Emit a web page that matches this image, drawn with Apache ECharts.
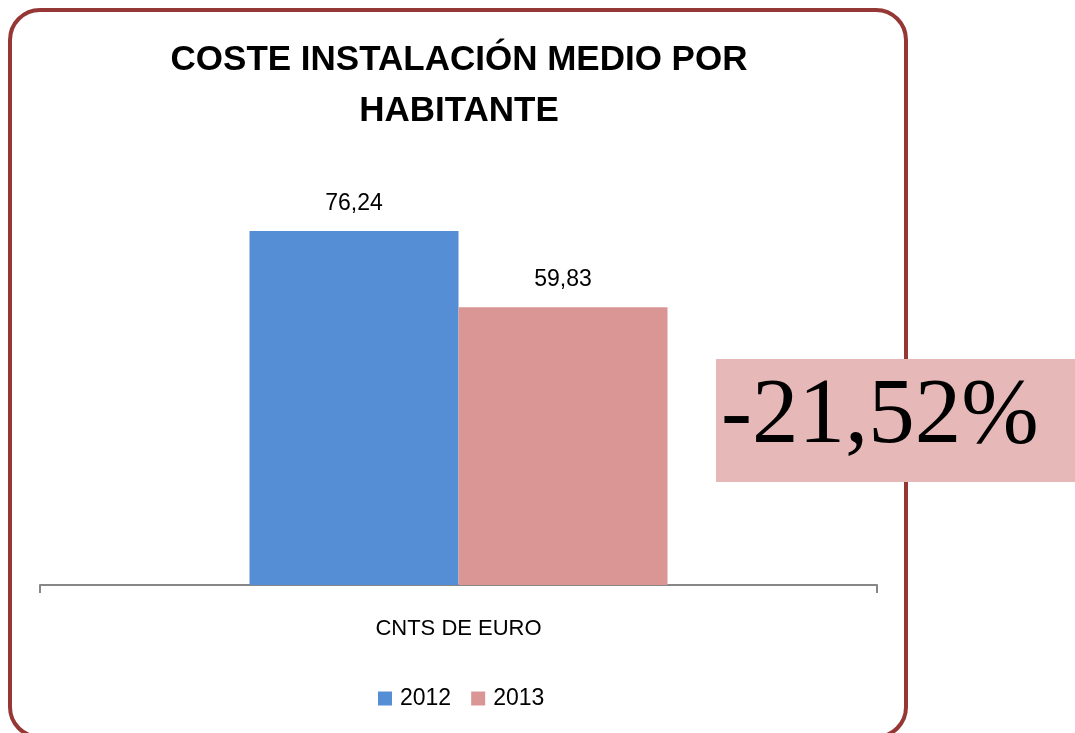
<!DOCTYPE html>
<html>
<head>
<meta charset="utf-8">
<script src="https://cdn.jsdelivr.net/npm/echarts@6/dist/echarts.min.js"></script>
<style>
html,body{margin:0;padding:0;background:#fff;}
#chart{width:1075px;height:733px;}
</style>
</head>
<body>
<div id="chart"></div>
<script>
const titleText = 'COSTE INSTALACIÓN MEDIO POR\nHABITANTE';
const categories = ['CNTS DE EURO'];
const seriesNames = ['2012', '2013'];
const values2012 = [76.24];
const values2013 = [59.83];
const changeLabel = '-21,52%';
const seriesColors = ['#558ED5', '#D99694'];

const fmt = v => v.toFixed(2).replace('.', ',');
const chart = echarts.init(document.getElementById('chart'), null, {renderer: 'canvas'});
const baseFont = 'Liberation Sans';
const valueSets = [values2012, values2013];

chart.setOption({
  animation: false,
  backgroundColor: '#fff',
  title: {
    text: titleText,
    left: 454, textAlign: 'center', top: 30,
    textStyle: {fontFamily: baseFont, fontWeight: 'bold', fontSize: 35, lineHeight: 51, color: '#000'}
  },
  legend: {
    data: seriesNames,
    left: 373, top: 682,
    itemWidth: 14, itemHeight: 14, itemGap: 20,
    icon: 'rect',
    textStyle: {fontFamily: baseFont, fontSize: 23, color: '#000', padding: [0,0,0,3]}
  },
  grid: {left: 40, right: 198, top: 213.5, bottom: 148, containLabel: false},
  xAxis: {
    type: 'category', data: categories,
    axisLine: {show: true, lineStyle: {color: '#878787', width: 2}},
    axisTick: {show: true, length: 8, lineStyle: {color: '#878787', width: 2}},
    axisLabel: {fontFamily: baseFont, fontSize: 22, color: '#000', margin: 33}
  },
  yAxis: {type: 'value', min: 0, max: 80, show: false, splitLine: {show: false}},
  series: seriesNames.map((name, i) => ({
    name, type: 'bar', data: valueSets[i],
    barWidth: 209, barGap: '0%',
    itemStyle: {color: seriesColors[i]},
    label: {show: true, position: 'top', distance: 16, formatter: p => fmt(p.value),
      fontFamily: baseFont, fontSize: 23, color: '#000'}
  })),
  graphic: [
    {type: 'rect', z: 100, shape: {x: 10, y: 10, width: 896, height: 727, r: 30},
      style: {fill: 'none', stroke: '#953735', lineWidth: 4}},
    {type: 'rect', z: 110, shape: {x: 716, y: 359, width: 359, height: 123},
      style: {fill: '#E6B9B8'}},
    {type: 'text', z: 120, x: 721, y: 418,
      style: {text: changeLabel, fontFamily: 'Liberation Serif', fontSize: 93, fill: '#000',
        textAlign: 'left', textVerticalAlign: 'middle'}}
  ]
});
</script>
</body>
</html>
